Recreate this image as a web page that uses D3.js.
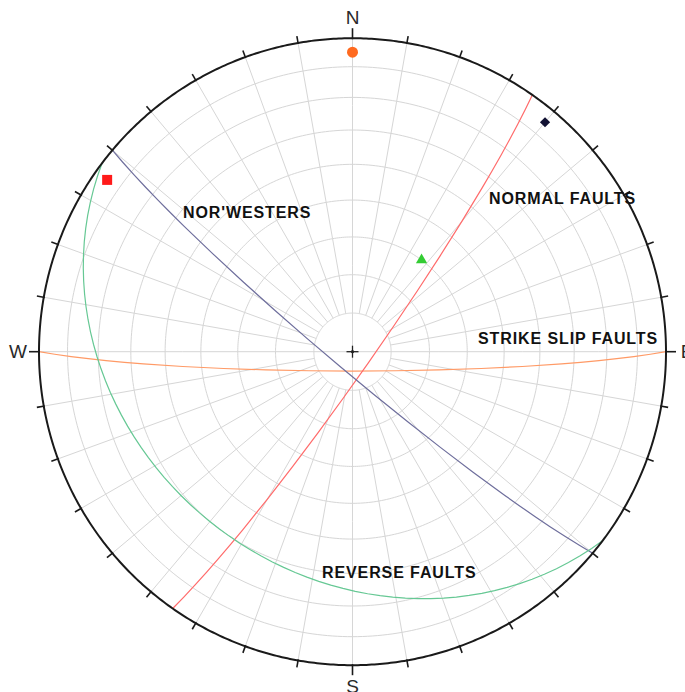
<!DOCTYPE html>
<html>
<head>
<meta charset="utf-8">
<script src="https://cdn.jsdelivr.net/npm/d3@7"></script>
<style>
  html, body { margin: 0; padding: 0; background: #fff; }
  svg { display: block; }
</style>
</head>
<body>
<svg id="net" width="685" height="692"></svg>
<script>
// Fault sets: plane attitude as dip direction / dip (degrees)
const setNames   = ["STRIKE SLIP FAULTS", "NORMAL FAULTS", "NOR'WESTERS", "REVERSE FAULTS"];
const dipDirs    = [180, 125, 220, 217];
const dips       = [85, 85, 85, 30];
const setColors  = ["#ff9a66", "#ff6b6b", "#6e6e9c", "#66c894"];

// Poles to each set: trend / plunge (degrees)
const poleTrends  = [0, 305, 40, 37];
const polePlunges = [5, 5, 5, 60];
const poleColors  = ["#ff6a1f", "#ff1a1a", "#111133", "#33cc33"];
const poleShapes  = ["circle", "square", "diamond", "triangle"];

// Set name placement (left edge, baseline)
const labelX = [478, 489, 183, 322];
const labelY = [344, 204, 218, 578];

// Compass labels
const compassLabels = ["N", "E", "S", "W"];
const compassTrends = [0, 90, 180, 270];

// Net graduations
const gridStep = 10;

const cx = 352.5, cy = 351.7, R = 313.5;
const svg = d3.select("#net");

// Lower-hemisphere equal-area (Schmidt) projection, looking down; north up
const proj = d3.geoAzimuthalEqualArea()
  .rotate([0, 90])
  .scale(R / Math.SQRT2)
  .translate([cx, cy])
  .precision(0.1);
const path = d3.geoPath(proj);
const toGeo = (trend, plunge) => [trend, -plunge];

// Polar grid: circles of equal plunge
const grid = svg.append("g").attr("fill", "none").attr("stroke", "#d6d6d6").attr("stroke-width", 1);
d3.range(gridStep, 90, gridStep).forEach(a => {
  grid.append("path").attr("d", path(d3.geoCircle().center([0, -90]).radius(a).precision(1)()));
});
// radial lines every 10 degrees of trend; cardinal ones reach the centre
d3.range(0, 360, gridStep).forEach(t => {
  const inner = (t % 90 === 0) ? 90 : 90 - gridStep;
  grid.append("path").attr("d", path({type: "LineString", coordinates: [toGeo(t, inner), toGeo(t, 0)]}));
});

// Great circles for each fault set
const planes = svg.append("g").attr("fill", "none").attr("stroke-width", 1.2);
dipDirs.forEach((dd, i) => {
  const line = {type: "LineString", coordinates: [
    toGeo(dd - 90, 0), toGeo(dd, dips[i]), toGeo(dd + 90, 0)
  ]};
  planes.append("path").attr("d", path(line)).attr("stroke", setColors[i]);
});

// Primitive circle and graduation ticks
svg.append("path")
  .attr("d", path(d3.geoCircle().center([0, -90]).radius(90).precision(0.5)()))
  .attr("fill", "none").attr("stroke", "#1a1a1a").attr("stroke-width", 2);

const ticks = svg.append("g").attr("stroke", "#1a1a1a").attr("stroke-width", 1.6);
d3.range(0, 360, gridStep).forEach(t => {
  const [px, py] = proj(toGeo(t, 0));
  const ux = (px - cx) / R, uy = (py - cy) / R;
  const len = (t % 90 === 0) ? 10 : 7;
  ticks.append("line")
    .attr("x1", px - ux).attr("y1", py - uy)
    .attr("x2", px + ux * len).attr("y2", py + uy * len);
});

// Centre cross
const cross = svg.append("g").attr("stroke", "#222").attr("stroke-width", 1.3);
cross.append("line").attr("x1", cx - 6).attr("x2", cx + 6).attr("y1", cy).attr("y2", cy);
cross.append("line").attr("x1", cx).attr("x2", cx).attr("y1", cy - 6).attr("y2", cy + 6);
svg.append("circle").attr("cx", cx).attr("cy", cy).attr("r", 1.6).attr("fill", "#222");

// Poles
const symbolFor = {
  circle:   d3.symbol().type(d3.symbolCircle).size(95),
  square:   d3.symbol().type(d3.symbolSquare).size(100),
  diamond:  d3.symbol().type(d3.symbolSquare).size(52),
  triangle: d3.symbol().type(d3.symbolTriangle).size(55)
};
poleTrends.forEach((t, i) => {
  const [px, py] = proj(toGeo(t, polePlunges[i]));
  const rot = poleShapes[i] === "diamond" ? 45 : 0;
  svg.append("path")
    .attr("d", symbolFor[poleShapes[i]]())
    .attr("transform", `translate(${px},${py}) rotate(${rot})`)
    .attr("fill", poleColors[i]);
});

// Set names
setNames.forEach((name, i) => {
  svg.append("text")
    .attr("x", labelX[i]).attr("y", labelY[i])
    .attr("font-family", "Liberation Sans, Arial, sans-serif")
    .attr("font-weight", "bold").attr("font-size", 16)
    .attr("letter-spacing", 0.9)
    .attr("fill", "#111")
    .text(name);
});

// Compass letters just beyond the long cardinal ticks
compassTrends.forEach((t, i) => {
  const [px, py] = proj(toGeo(t, 0));
  const ux = (px - cx) / R, uy = (py - cy) / R;
  const d = 21;
  svg.append("text")
    .attr("x", px + ux * d).attr("y", py + uy * d)
    .attr("text-anchor", "middle")
    .attr("dominant-baseline", "central")
    .attr("font-family", "Liberation Sans, Arial, sans-serif")
    .attr("font-size", 19)
    .attr("fill", "#2a2a2a")
    .text(compassLabels[i]);
});
</script>
</body>
</html>
